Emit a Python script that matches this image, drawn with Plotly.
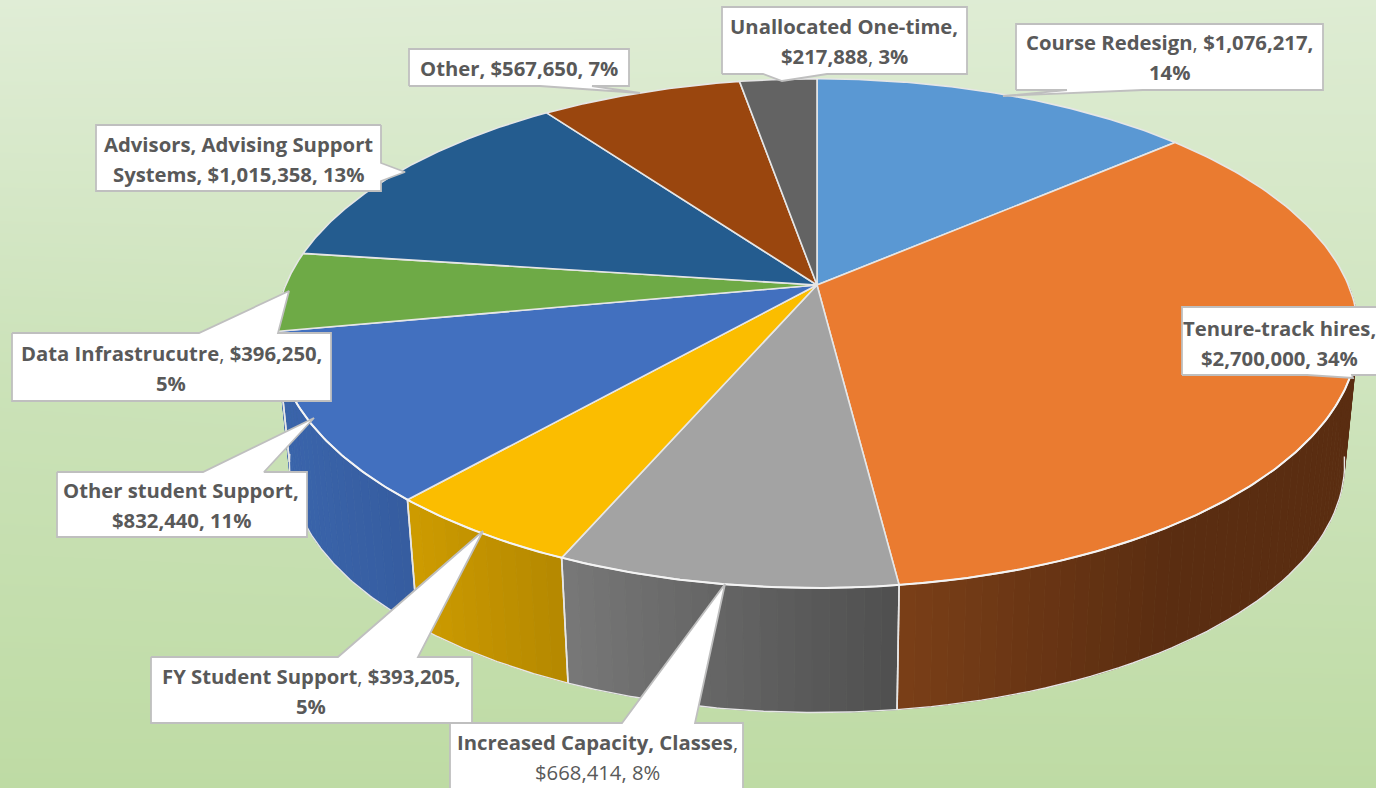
import numpy as np
import plotly.graph_objects as go

# ---- chart data ----
categories = ["Course Redesign", "Tenure-track hires", "Increased Capacity, Classes",
              "FY Student Support", "Other student Support", "Data Infrastrucutre",
              "Advisors, Advising Support Systems", "Other", "Unallocated One-time"]
amounts = [1076217, 2700000, 668414, 393205, 832440, 396250, 1015358, 567650, 217888]

# ---- styles ----
top_colors = ["#5A98D3", "#EA7B30", "#A3A3A3", "#FBBD00", "#4270BF",
              "#6EAA46", "#245C8F", "#9A460E", "#636363"]
side_left = ["#37608A", "#7A3F18", "#787878", "#CE9C00", "#3B65AC",
             "#4C7A30", "#1A4468", "#6E320A", "#444444"]
side_right = ["#2E5578", "#5A2D11", "#4F4F4F", "#B58800", "#365DA0",
              "#44702B", "#163C5C", "#60290A", "#3A3A3A"]

# projection of the disc (perspective view)
CX, CY, A, B, K = 817.0, 285.0, 245.4, 531.3, 0.19
BASE_SX, BASE_SY, BASE_DY = 0.975, 0.977, 131.5
W, H = 1376, 788


def project(theta, sx=1.0, sy=1.0, dy=0.0):
    u, v = np.sin(theta), -np.cos(theta)
    w = 1 - K * v
    return CX + sx * B * u / w, CY + dy + sy * A * v / w


def project_base(theta):
    return project(theta, BASE_SX, BASE_SY, BASE_DY)


values = np.array(amounts, dtype=float)
total = values.sum()
edges = np.concatenate([[0], np.cumsum(values)]) / total * 2 * np.pi


def hex2rgb(h):
    return np.array([int(h[i:i + 2], 16) for i in (1, 3, 5)], dtype=float)


fig = go.Figure()

# background gradient
fig.add_trace(go.Heatmap(
    x=[0, W / 2, W], y=[0, H / 2, H],
    z=[[0.00, 0.03, 0.06], [0.58, 0.52, 0.46], [1.0, 1.0, 1.0]],
    colorscale=[[0, "#E0EDD6"], [0.5, "#CDE3BB"], [1, "#BEDBA4"]],
    zmin=0, zmax=1, zsmooth="best", showscale=False, hoverinfo="skip"))


def poly(xs, ys, fill, line=None, lw=0.0):
    fig.add_trace(go.Scatter(
        x=list(xs), y=list(ys), mode="lines", fill="toself", fillcolor=fill,
        line=dict(color=line if line else fill, width=lw if line else 0.8),
        hoverinfo="skip", showlegend=False))


EDGE = "#E6E6E6"
# side walls, back to front
bands = []
for i in range(len(values)):
    a0, a1 = edges[i], edges[i + 1]
    n = max(2, int((a1 - a0) / np.radians(1.5)))
    ts = np.linspace(a0, a1, n + 1)
    for j in range(n):
        t0, t1 = ts[j], ts[j + 1]
        if -np.cos((t0 + t1) / 2) < 0:
            continue
        bands.append((-np.cos((t0 + t1) / 2), i, t0, t1))
for _, i, t0, t1 in sorted(bands, key=lambda b: b[0]):
    x0, y0 = project(np.array([t0, t1]))
    x1, y1 = project_base(np.array([t1, t0]))
    ends = project(np.array([edges[i], edges[i + 1]]))[0]
    xl, xr = ends.min(), ends.max()
    f = np.clip((x0.mean() - xl) / max(xr - xl, 1), 0, 1)
    c = hex2rgb(side_left[i]) * (1 - f) + hex2rgb(side_right[i]) * f
    col = "rgb(%d,%d,%d)" % tuple(c)
    poly(np.r_[x0, x1, x0[0]], np.r_[y0, y1, y0[0]], col)

# rim lines of the walls
for i in range(len(values)):
    a0, a1 = edges[i], edges[i + 1]
    ts = np.linspace(a0, a1, 80)
    ts = ts[-np.cos(ts) > 0.15]
    if len(ts) < 2:
        continue
    bx, by = project_base(ts)
    fig.add_trace(go.Scatter(x=bx, y=by, mode="lines", line=dict(color=EDGE, width=1.4),
                             hoverinfo="skip", showlegend=False))
    for t in (a0, a1):
        if -np.cos(t) > 0.15:
            tx, ty = project(t)
            ux, uy = project_base(t)
            fig.add_trace(go.Scatter(x=[tx, ux], y=[ty, uy], mode="lines",
                                     line=dict(color=EDGE, width=1.6),
                                     hoverinfo="skip", showlegend=False))

# top faces
for i in range(len(values)):
    ts = np.linspace(edges[i], edges[i + 1], 120)
    x, y = project(ts)
    poly(np.r_[CX, x, CX], np.r_[CY, y, CY], top_colors[i], line=EDGE, lw=1.6)
# brighter front rim of the top face
ts = np.linspace(np.radians(100), np.radians(262), 300)
fx, fy = project(ts)
fig.add_trace(go.Scatter(x=fx, y=fy, mode="lines", line=dict(color="#F4F4F4", width=2),
                         hoverinfo="skip", showlegend=False))

# callouts: outline as rectangle + pointer, text lines
BORDER = "#BFBFBF"
TXT = "#595959"
FONT = "Open Sans"
callouts = [
    dict(rect=(1016, 24, 1323, 90), side="b", base=(1067, 1143), tip=(1003, 96), cx=1169,
         lines=[("<b>Course Redesign</b>, <b>$1,076,217,</b>", 42), ("<b>14%</b>", 72)]),
    dict(rect=(1182, 307, 1395, 375), side="b", base=(1307, 1352), tip=(1353, 378), cx=1279,
         lines=[("<b>Tenure-track hires,</b>", 328), ("<b>$2,700,000, 34%</b>", 358)]),
    dict(rect=(450, 723, 743, 800), side="t", base=(622, 695), tip=(725, 584), cx=597,
         lines=[("<b>Increased Capacity, Classes</b>,", 742), ("$668,414, 8%", 772)]),
    dict(rect=(151, 657, 472, 723), side="t", base=(338, 418), tip=(483, 531), cx=311,
         lines=[("<b>FY Student Support</b>, <b>$393,205,</b>", 676), ("<b>5%</b>", 706)]),
    dict(rect=(57, 472, 307, 537), side="t", base=(203, 264), tip=(314, 418), cx=181,
         lines=[("<b>Other student Support,</b>", 490), ("<b>$832,440, 11%</b>", 520)]),
    dict(rect=(12, 333, 331, 401), side="t", base=(199, 278), tip=(289, 291), cx=171,
         lines=[("<b>Data Infrastrucutre</b>, <b>$396,250,</b>", 353), ("<b>5%</b>", 383)]),
    dict(rect=(96, 125, 381, 191), side="r", base=(163, 181), tip=(405, 172), cx=238,
         lines=[("<b>Advisors, Advising Support</b>", 144), ("<b>Systems, $1,015,358, 13%</b>", 174)]),
    dict(rect=(409, 49, 629, 86), side="b", base=(540, 592), tip=(640, 93), cx=519,
         lines=[("<b>Other, $567,650, 7%</b>", 68)]),
    dict(rect=(722, 7, 967, 74), side="b", base=(763, 827), tip=(782, 81), cx=844,
         lines=[("<b>Unallocated One-time,</b>", 26), ("<b>$217,888</b>, <b>3%</b>", 56)]),
]
annotations = []
for c in callouts:
    x0, y0, x1, y1 = c["rect"]
    b0, b1 = c["base"]
    tx, ty = c["tip"]
    if c["side"] == "b":
        xs = [x0, b0, tx, b1, x1, x1, x0, x0]
        ys = [y1, y1, ty, y1, y1, y0, y0, y1]
    elif c["side"] == "t":
        xs = [x0, b0, tx, b1, x1, x1, x0, x0]
        ys = [y0, y0, ty, y0, y0, y1, y1, y0]
    else:
        xs = [x1, x1, tx, x1, x1, x0, x0, x1]
        ys = [y0, b0, ty, b1, y1, y1, y0, y0]
    fig.add_trace(go.Scatter(x=xs, y=ys, mode="lines", fill="toself", fillcolor="white",
                             line=dict(color=BORDER, width=1.8), hoverinfo="skip",
                             showlegend=False))
    for text, ly in c["lines"]:
        annotations.append(dict(x=c["cx"], y=ly, xref="x", yref="y", text=text,
                                showarrow=False, xanchor="center", yanchor="middle",
                                font=dict(family=FONT, size=20.3, color=TXT)))

fig.update_layout(
    width=W, height=H, margin=dict(l=0, r=0, t=0, b=0), showlegend=False,
    paper_bgcolor="#DDECD2", plot_bgcolor="rgba(0,0,0,0)",
    xaxis=dict(range=[0, W], visible=False, fixedrange=True),
    yaxis=dict(range=[H, 0], visible=False, fixedrange=True),
    annotations=annotations)
fig.write_html("out.html", config={"displayModeBar": False},
               post_script="document.body.style.margin='0';")
